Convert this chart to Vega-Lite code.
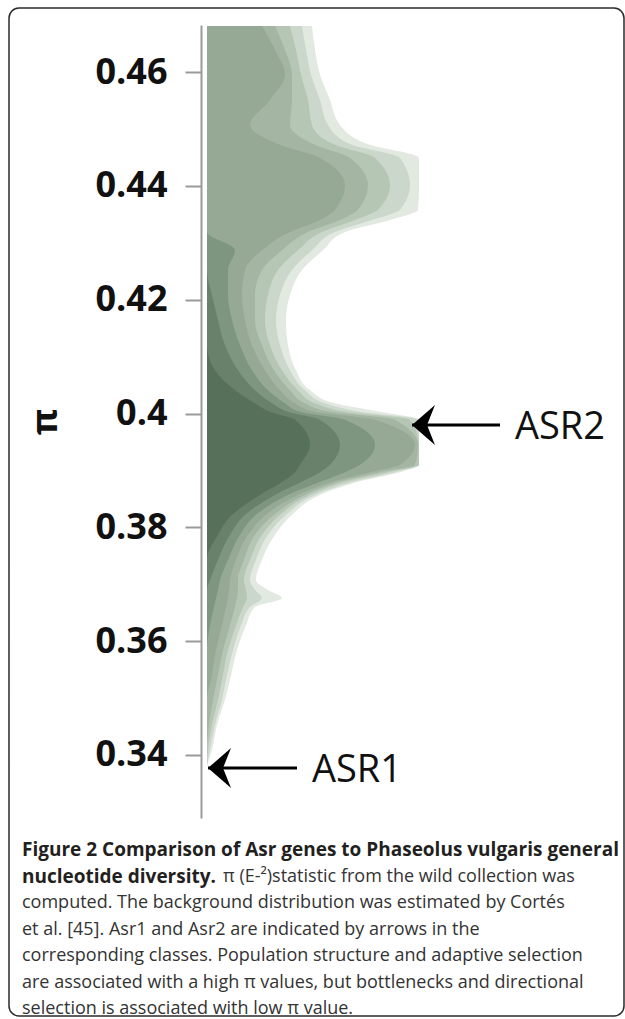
{
  "$schema": "https://vega.github.io/schema/vega-lite/v6.json",
  "width": 615,
  "height": 1008,
  "autosize": {"type": "none"},
  "padding": {"left": 9, "top": 8, "right": 1, "bottom": 3},
  "background": "white",
  "config": {
    "view": {"stroke": "#2b2b2b", "strokeWidth": 1.5, "cornerRadius": 10, "fill": "white"}
  },
  "title": {
    "text": ["Figure 2 Comparison of Asr genes to Phaseolus vulgaris general", "nucleotide diversity."],
    "subtitle": ["\u200b\u00a0\u00a0\u00a0\u00a0\u00a0\u00a0\u00a0\u00a0\u00a0\u00a0\u00a0\u00a0\u00a0\u00a0\u00a0\u00a0\u00a0\u00a0\u00a0\u00a0\u00a0\u00a0\u00a0\u00a0\u00a0\u00a0\u00a0\u00a0\u00a0\u00a0\u00a0\u00a0\u00a0\u00a0\u00a0\u00a0\u00a0\u00a0\u00a0\u00a0\u00a0\u00a0\u00a0π (E-²)statistic from the wild collection was", "computed. The background distribution was estimated by Cortés", "et al. [45]. Asr1 and Asr2 are indicated by arrows in the", "corresponding classes. Population structure and adaptive selection", "are associated with a high π values, but bottlenecks and directional", "selection is associated with low π value."],
    "orient": "bottom",
    "anchor": "start",
    "frame": "group",
    "offset": -175,
    "dx": 13,
    "font": "Open Sans",
    "fontSize": 19,
    "fontWeight": "bold",
    "color": "#231f20",
    "lineHeight": 26.5,
    "subtitleFont": "Open Sans",
    "subtitleFontSize": 18,
    "subtitleFontWeight": "normal",
    "subtitleColor": "#333333",
    "subtitleLineHeight": 26.5,
    "subtitlePadding": -19
  },
  "datasets": {
    "density": [
      {"pi": 0.3381, "w1": 0, "w2": 0, "w3": 0, "w4": 0, "w5": 0, "w6": 0, "w7": 0, "w8": 0},
      {"pi": 0.3409, "w1": 5, "w2": 3, "w3": 1, "w4": 0, "w5": 0, "w6": 0, "w7": 0, "w8": 0},
      {"pi": 0.3453, "w1": 10, "w2": 8, "w3": 5, "w4": 2, "w5": 0, "w6": 0, "w7": 0, "w8": 0},
      {"pi": 0.3497, "w1": 18, "w2": 15, "w3": 11, "w4": 6, "w5": 0, "w6": 0, "w7": 0, "w8": 0},
      {"pi": 0.3532, "w1": 23, "w2": 19, "w3": 15, "w4": 10, "w5": 4, "w6": 0, "w7": 0, "w8": 0},
      {"pi": 0.3584, "w1": 30, "w2": 26, "w3": 21, "w4": 16, "w5": 9, "w6": 0, "w7": 0, "w8": 0},
      {"pi": 0.3628, "w1": 39, "w2": 34, "w3": 29, "w4": 23, "w5": 15, "w6": 3, "w7": 0, "w8": 0},
      {"pi": 0.3660, "w1": 48, "w2": 43, "w3": 36, "w4": 28, "w5": 19, "w6": 7, "w7": 0, "w8": 0},
      {"pi": 0.3676, "w1": 75, "w2": 55, "w3": 40, "w4": 30, "w5": 21, "w6": 9, "w7": 0, "w8": 0},
      {"pi": 0.3690, "w1": 61, "w2": 48, "w3": 39, "w4": 31, "w5": 22, "w6": 11, "w7": 0, "w8": 0},
      {"pi": 0.3707, "w1": 49, "w2": 43, "w3": 37, "w4": 31, "w5": 23, "w6": 13, "w7": 3, "w8": 0},
      {"pi": 0.3743, "w1": 55, "w2": 49, "w3": 43, "w4": 37, "w5": 29, "w6": 21, "w7": 11, "w8": 0},
      {"pi": 0.3787, "w1": 68, "w2": 61, "w3": 55, "w4": 48, "w5": 41, "w6": 33, "w7": 23, "w8": 11},
      {"pi": 0.3822, "w1": 85, "w2": 79, "w3": 73, "w4": 67, "w5": 59, "w6": 49, "w7": 38, "w8": 25},
      {"pi": 0.3857, "w1": 113, "w2": 108, "w3": 103, "w4": 98, "w5": 91, "w6": 81, "w7": 68, "w8": 53},
      {"pi": 0.3883, "w1": 158, "w2": 153, "w3": 145, "w4": 138, "w5": 131, "w6": 118, "w7": 98, "w8": 78},
      {"pi": 0.3897, "w1": 193, "w2": 188, "w3": 181, "w4": 173, "w5": 163, "w6": 138, "w7": 113, "w8": 88},
      {"pi": 0.3910, "w1": 212, "w2": 212, "w3": 212, "w4": 208, "w5": 193, "w6": 153, "w7": 123, "w8": 93},
      {"pi": 0.3945, "w1": 212, "w2": 212, "w3": 212, "w4": 211, "w5": 208, "w6": 168, "w7": 133, "w8": 103},
      {"pi": 0.3989, "w1": 212, "w2": 212, "w3": 203, "w4": 188, "w5": 168, "w6": 138, "w7": 113, "w8": 88},
      {"pi": 0.4003, "w1": 173, "w2": 153, "w3": 138, "w4": 123, "w5": 108, "w6": 93, "w7": 81, "w8": 63},
      {"pi": 0.4018, "w1": 128, "w2": 118, "w3": 108, "w4": 98, "w5": 88, "w6": 78, "w7": 65, "w8": 48},
      {"pi": 0.4041, "w1": 103, "w2": 98, "w3": 91, "w4": 83, "w5": 73, "w6": 61, "w7": 48, "w8": 28},
      {"pi": 0.4076, "w1": 89, "w2": 83, "w3": 75, "w4": 67, "w5": 58, "w6": 45, "w7": 31, "w8": 8},
      {"pi": 0.4120, "w1": 81, "w2": 73, "w3": 63, "w4": 55, "w5": 45, "w6": 33, "w7": 18, "w8": 0},
      {"pi": 0.4164, "w1": 79, "w2": 69, "w3": 58, "w4": 48, "w5": 38, "w6": 25, "w7": 11, "w8": 0},
      {"pi": 0.4208, "w1": 83, "w2": 73, "w3": 61, "w4": 48, "w5": 35, "w6": 21, "w7": 5, "w8": 0},
      {"pi": 0.4252, "w1": 95, "w2": 85, "w3": 71, "w4": 55, "w5": 38, "w6": 21, "w7": 0, "w8": 0},
      {"pi": 0.4287, "w1": 116, "w2": 105, "w3": 91, "w4": 75, "w5": 55, "w6": 28, "w7": 0, "w8": 0},
      {"pi": 0.4319, "w1": 138, "w2": 128, "w3": 115, "w4": 101, "w5": 83, "w6": 0, "w7": 0, "w8": 0},
      {"pi": 0.4340, "w1": 183, "w2": 165, "w3": 148, "w4": 133, "w5": 113, "w6": 0, "w7": 0, "w8": 0},
      {"pi": 0.4358, "w1": 211, "w2": 193, "w3": 171, "w4": 151, "w5": 128, "w6": 0, "w7": 0, "w8": 0},
      {"pi": 0.4401, "w1": 212, "w2": 203, "w3": 183, "w4": 161, "w5": 138, "w6": 0, "w7": 0, "w8": 0},
      {"pi": 0.4449, "w1": 212, "w2": 193, "w3": 168, "w4": 143, "w5": 113, "w6": 0, "w7": 0, "w8": 0},
      {"pi": 0.4472, "w1": 163, "w2": 145, "w3": 128, "w4": 108, "w5": 73, "w6": 0, "w7": 0, "w8": 0},
      {"pi": 0.4507, "w1": 133, "w2": 121, "w3": 105, "w4": 83, "w5": 43, "w6": 0, "w7": 0, "w8": 0},
      {"pi": 0.4551, "w1": 123, "w2": 113, "w3": 101, "w4": 85, "w5": 63, "w6": 0, "w7": 0, "w8": 0},
      {"pi": 0.4595, "w1": 113, "w2": 104, "w3": 94, "w4": 85, "w5": 78, "w6": 0, "w7": 0, "w8": 0},
      {"pi": 0.4639, "w1": 108, "w2": 99, "w3": 89, "w4": 78, "w5": 68, "w6": 0, "w7": 0, "w8": 0},
      {"pi": 0.4681, "w1": 105, "w2": 95, "w3": 83, "w4": 68, "w5": 55, "w6": 0, "w7": 0, "w8": 0}
    ],
    "arrows": [
      {"label": "ASR2", "pi": 0.3980, "tip": 205, "tail": 293, "tx": 308},
      {"label": "ASR1", "pi": 0.3377, "tip": 1, "tail": 90, "tx": 105}
    ]
  },
  "layer": [
    {
      "data": {"name": "density"},
      "transform": [{"fold": ["w1", "w2", "w3", "w4", "w5", "w6", "w7", "w8"], "as": ["band", "w"]}],
      "mark": {"type": "area", "orient": "horizontal", "interpolate": "monotone"},
      "encoding": {
        "y": {
          "field": "pi",
          "type": "quantitative",
          "scale": {"domain": [0.32893, 0.46826], "range": [810, 17], "nice": false, "zero": false},
          "axis": {
            "values": [0.34, 0.36, 0.38, 0.4, 0.42, 0.44, 0.46],
            "format": ".2~f",
            "offset": -192,
            "grid": false,
            "domainColor": "#9a9a9a",
            "domainWidth": 2,
            "tickColor": "#9a9a9a",
            "tickWidth": 2,
            "tickSize": 16,
            "labelFont": "Open Sans",
            "labelFontSize": 36,
            "labelFontWeight": "bold",
            "labelColor": "#111111",
            "labelPadding": 18,
            "title": "π",
            "titleFont": "Open Sans",
            "titleFontSize": 36,
            "titleFontWeight": "bold",
            "titleColor": "#111111",
            "titlePadding": 30
          }
        },
        "x": {
          "field": "w",
          "type": "quantitative",
          "stack": null,
          "scale": {"domain": [-198, 417], "nice": false, "zero": false},
          "axis": null
        },
        "x2": {"datum": 0},
        "color": {
          "field": "band",
          "type": "nominal",
          "scale": {
            "domain": ["w1", "w2", "w3", "w4", "w5", "w6", "w7", "w8"],
            "range": ["#e2e9e1", "#cbd7ca", "#b6c6b5", "#a4b6a3", "#95a994", "#7e957f", "#69816b", "#56705a"]
          },
          "legend": null
        }
      }
    },
    {
      "mark": {"type": "rule", "color": "#9a9a9a", "strokeWidth": 2},
      "encoding": {
        "x": {"datum": 212, "type": "quantitative", "axis": null},
        "y": {"datum": 0.4683, "type": "quantitative"},
        "y2": {"datum": 0.3379}
      }
    },
    {
      "data": {"name": "arrows"},
      "mark": {"type": "rule", "color": "black", "strokeWidth": 3},
      "encoding": {
        "x": {"field": "tip", "type": "quantitative", "axis": null},
        "x2": {"field": "tail"},
        "y": {"field": "pi", "type": "quantitative"}
      }
    },
    {
      "data": {"name": "arrows"},
      "mark": {"type": "point", "shape": "M0,0L1.15,-1L0.75,0L1.15,1Z", "filled": true, "size": 1600, "color": "black", "opacity": 1, "strokeWidth": 0},
      "encoding": {
        "x": {"field": "tip", "type": "quantitative", "axis": null},
        "y": {"field": "pi", "type": "quantitative"}
      }
    },
    {
      "data": {"name": "arrows"},
      "mark": {"type": "text", "align": "left", "baseline": "middle", "font": "Open Sans", "fontSize": 38, "color": "#111111", "dy": 3},
      "encoding": {
        "x": {"field": "tx", "type": "quantitative", "axis": null},
        "y": {"field": "pi", "type": "quantitative"},
        "text": {"field": "label"}
      }
    }
  ]
}
